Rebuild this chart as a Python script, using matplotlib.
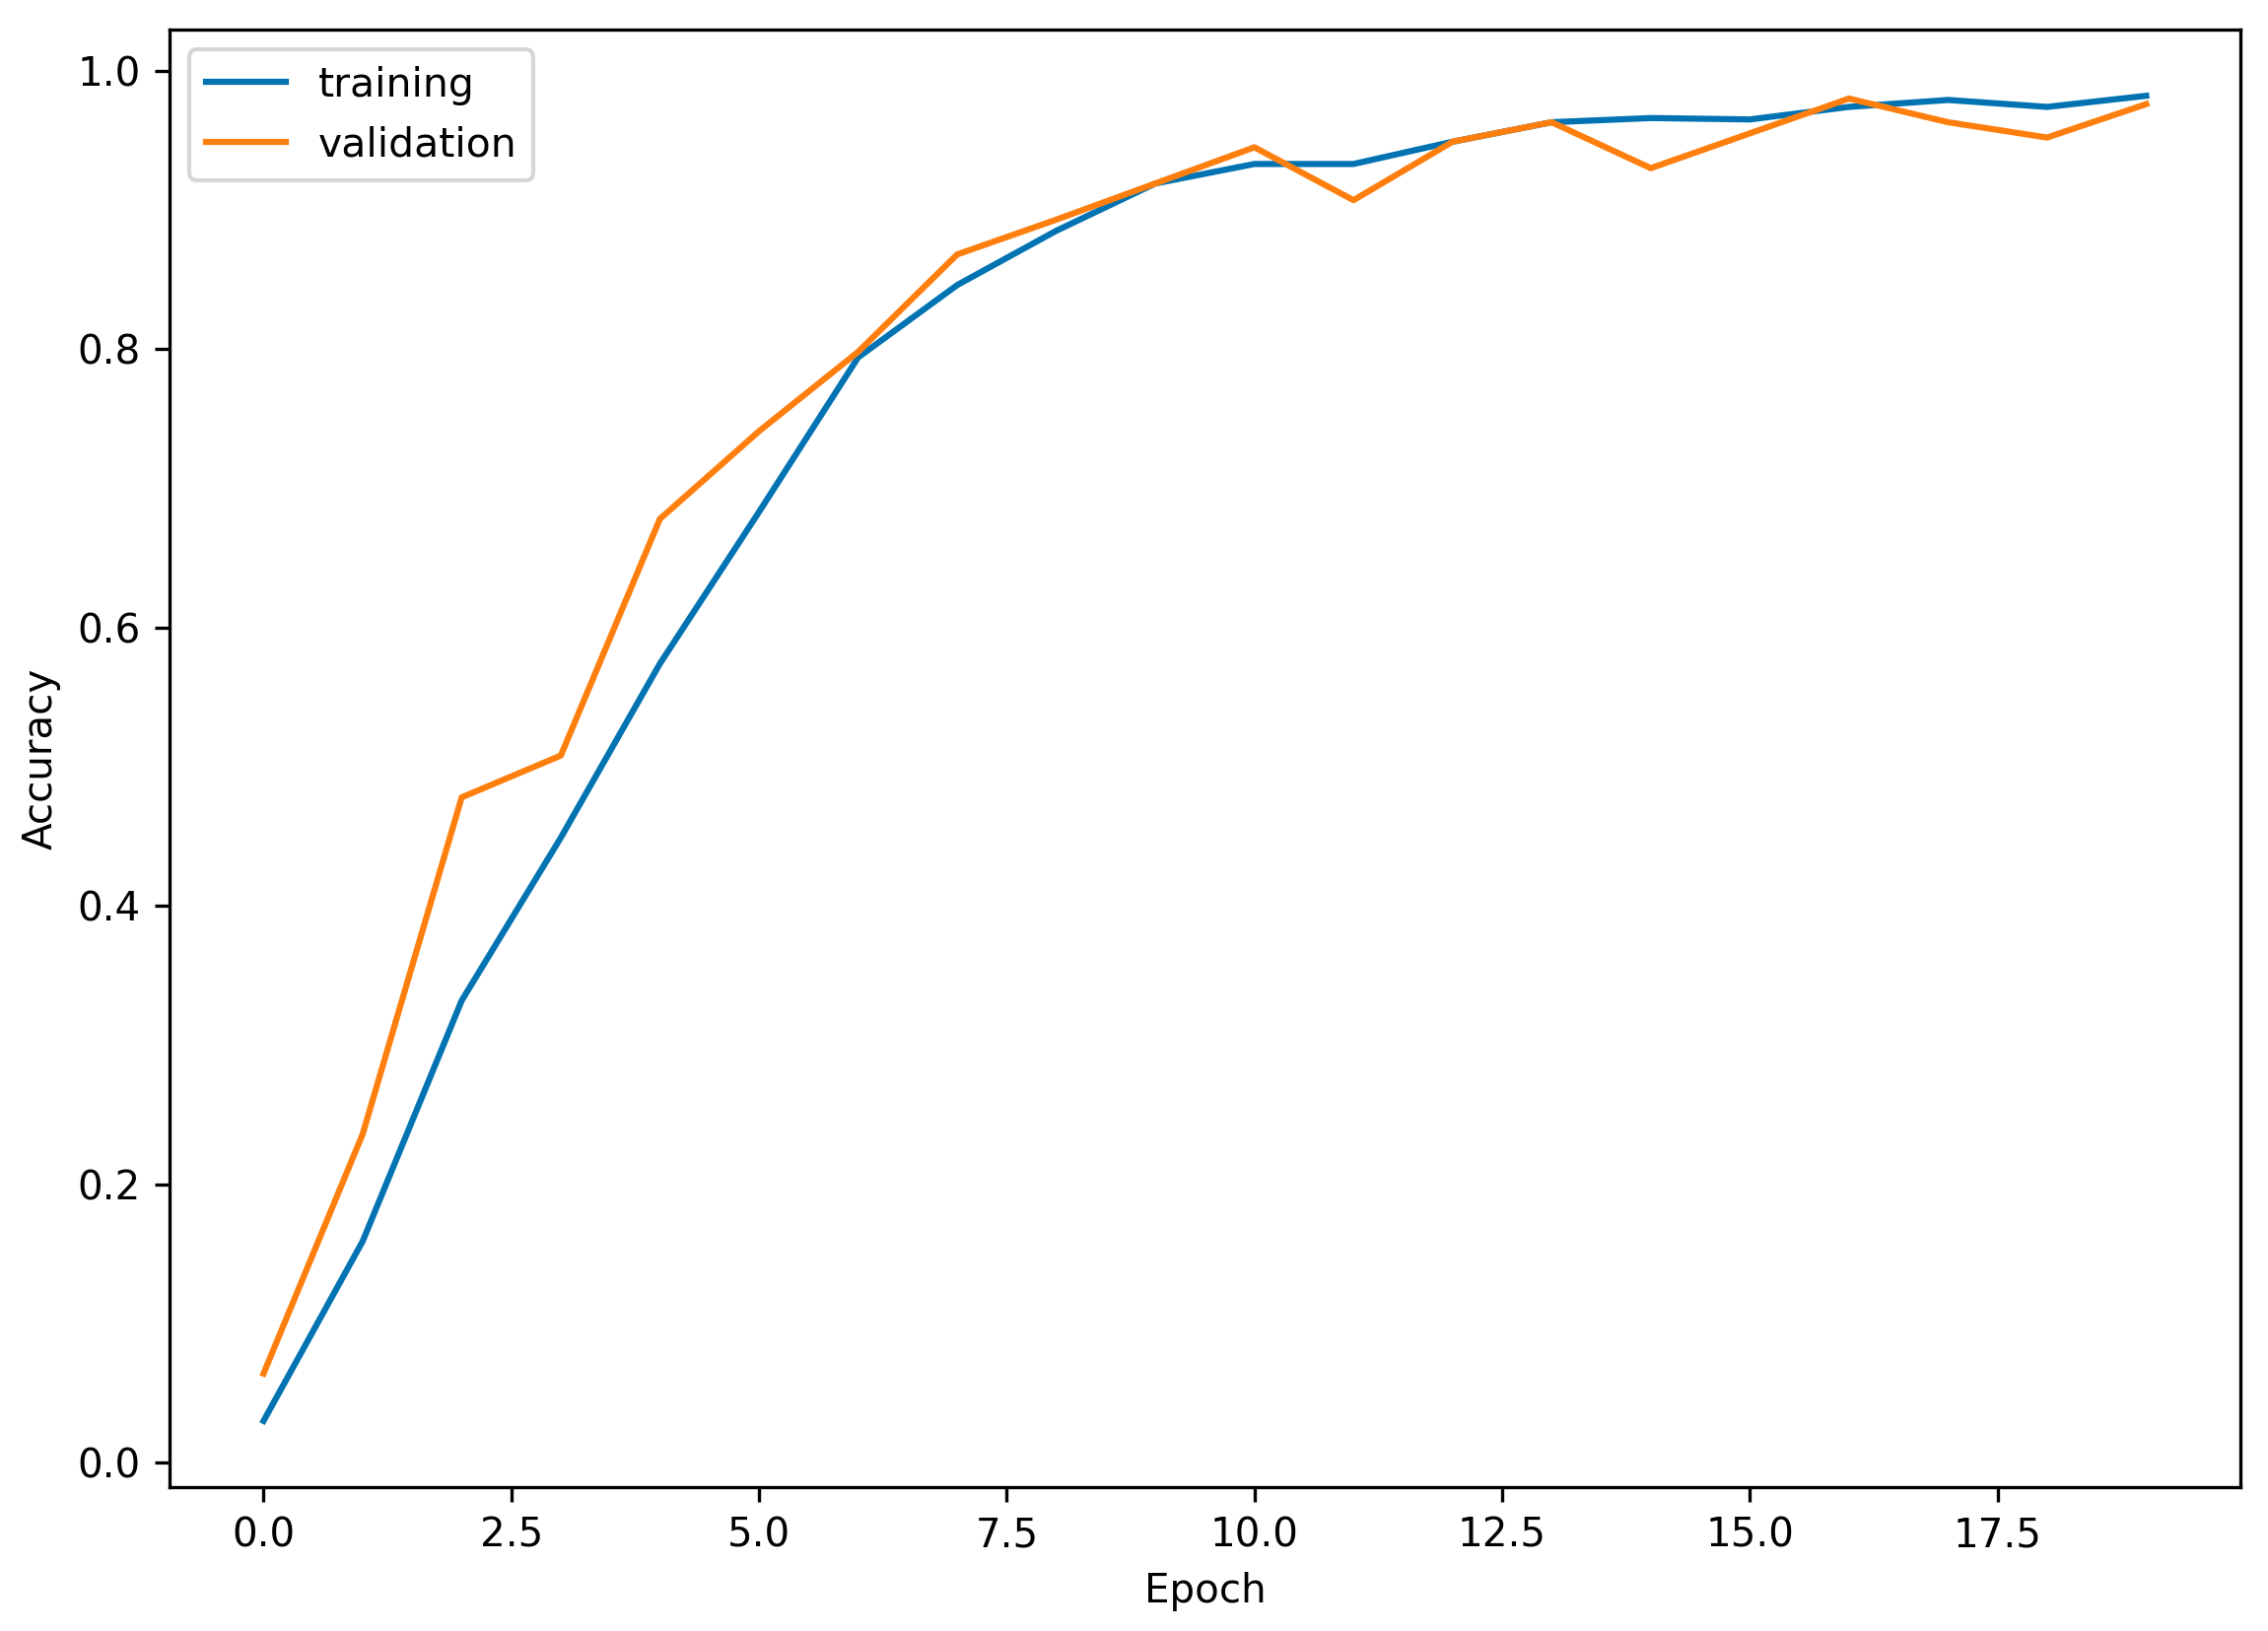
import matplotlib
matplotlib.use("Agg")
import matplotlib.pyplot as plt

# accuracy per epoch
epochs = list(range(20))
train_acc = [0.030, 0.159, 0.332, 0.449, 0.574, 0.683, 0.794, 0.846, 0.885, 0.919,
             0.933, 0.933, 0.949, 0.963, 0.966, 0.965, 0.974, 0.979, 0.974, 0.982]
val_acc = [0.064, 0.236, 0.478, 0.508, 0.678, 0.741, 0.798, 0.868, 0.893, 0.919,
           0.945, 0.907, 0.949, 0.963, 0.930, 0.955, 0.980, 0.963, 0.952, 0.976]

plt.rcParams['font.family'] = ['DejaVu Sans']
plt.rcParams['font.size'] = 9.7

fig = plt.figure(figsize=(2301 / 300, 1655 / 300), dpi=300)
ax = fig.add_axes([0.0747, 0.0882, 0.9131, 0.8937])

ax.plot(epochs, train_acc, color='#0173b2', linewidth=1.5, label='training')
ax.plot(epochs, val_acc, color='#ff7f0e', linewidth=1.5, label='validation')

ax.set_xlabel('Epoch')
ax.set_ylabel('Accuracy')
ax.legend(loc='upper left', fontsize=9.8)

fig.savefig('out.png', dpi=300)
